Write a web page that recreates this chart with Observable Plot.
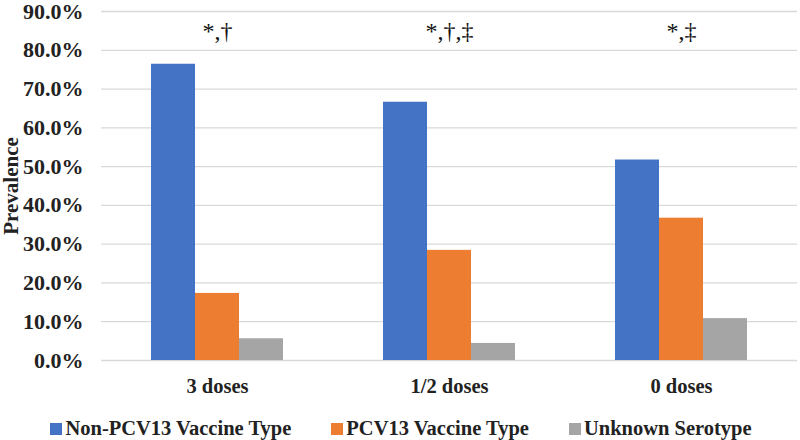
<!DOCTYPE html>
<html>
<head>
<meta charset="utf-8">
<script src="https://cdn.jsdelivr.net/npm/d3@7"></script>
<script src="https://cdn.jsdelivr.net/npm/@observablehq/plot@0.6"></script>
<style>
  body { margin: 0; background: #fff; font-family: "Liberation Serif", "Times New Roman", serif; }
  #chart { width: 800px; }
  .legend { display: flex; justify-content: center; gap: 40px; font-weight: bold; font-size: 20.5px; line-height: 24px; color: #222; margin-top: 16px; margin-left: 2px; }
  .legend span.sw { display: inline-block; width: 12px; height: 12px; margin-right: 3px; vertical-align: 0px; }
</style>
</head>
<body>
<div id="chart"></div>
<script>
const doses = ["3 doses", "1/2 doses", "0 doses"];
const types = ["Non-PCV13 Vaccine Type", "PCV13 Vaccine Type", "Unknown Serotype"];
const colors = ["#4472C4", "#ED7D31", "#A5A5A5"];
const nonPCV13 = [0.764, 0.666, 0.517];
const pcv13 = [0.173, 0.284, 0.367];
const unknown = [0.056, 0.044, 0.108];
const notes = ["*,\u2020", "*,\u2020,\u2021", "*,\u2021"];
const noteLevel = 0.85;
const yTicks = [0, 0.1, 0.2, 0.3, 0.4, 0.5, 0.6, 0.7, 0.8, 0.9];

const series = [nonPCV13, pcv13, unknown];
const data = [];
doses.forEach((d, i) => types.forEach((t, j) => data.push({dose: d, type: t, value: series[j][i]})));

const chart = Plot.plot({
  width: 800,
  height: 400,
  marginTop: 11,
  marginBottom: 40,
  marginLeft: 100,
  marginRight: 2,
  style: { fontFamily: "Liberation Serif, Times New Roman, serif", fontWeight: "bold", color: "#222", background: "#fff" },
  facet: { data, x: "dose" },
  fx: { domain: doses, padding: 0 },
  x: { domain: types, paddingInner: 0, paddingOuter: 1.083, axis: null },
  y: { domain: [0, 0.9] },
  color: { domain: types, range: colors },
  marks: [
    Plot.ruleY(yTicks, { stroke: "#d9d9d9", strokeWidth: 1.3 }),
    Plot.axisY({ ticks: yTicks, tickFormat: ".1%", tickSize: 0, tickPadding: 18, fontSize: 22, label: null }),
    Plot.axisY({ ticks: [], label: "Prevalence", labelAnchor: "center", labelArrow: "none", labelOffset: 98, fontSize: 21 }),
    Plot.axisFx({ anchor: "bottom", tickSize: 0, tickPadding: 18, fontSize: 20.5, label: null }),
    Plot.barY(data, { x: "type", y: "value", fill: "type" }),
    Plot.text(data, {
      filter: d => d.type === types[1],
      x: "type",
      y: () => noteLevel,
      text: d => notes[doses.indexOf(d.dose)],
      fontSize: 24, fontWeight: "normal", fill: "#111"
    })
  ]
});
document.getElementById("chart").appendChild(chart);

const legend = document.createElement("div");
legend.className = "legend";
types.forEach((t, i) => {
  const item = document.createElement("div");
  const sw = document.createElement("span");
  sw.className = "sw";
  sw.style.background = colors[i];
  item.appendChild(sw);
  item.appendChild(document.createTextNode(t));
  legend.appendChild(item);
});
document.getElementById("chart").appendChild(legend);
</script>
</body>
</html>
